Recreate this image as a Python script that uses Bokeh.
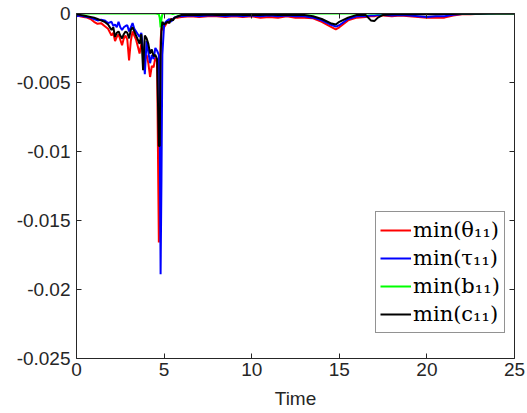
from bokeh.plotting import figure
from bokeh.models import LinearAxis, FixedTicker, Range1d, Legend, LegendItem, ColumnDataSource
from bokeh.embed import file_html
from bokeh.resources import INLINE

time = [0, 0.2, 0.4, 0.6, 0.8, 1.0, 1.2, 1.4, 1.6, 1.8,
        2.0, 2.1, 2.2, 2.3, 2.4, 2.5, 2.6, 2.7, 2.8, 2.9,
        3.0, 3.1, 3.2, 3.3, 3.4, 3.5, 3.6, 3.7, 3.8, 3.9,
        4.0, 4.1, 4.2, 4.3, 4.4, 4.5, 4.6, 4.7, 4.75, 4.8,
        4.85, 4.9, 5.0, 5.1, 5.2, 5.3, 5.4, 5.5, 5.6, 5.8,
        6.0, 6.5, 7, 7.5, 8, 8.5, 9, 9.5, 10, 10.5,
        11, 11.5, 12, 12.5, 13, 13.5, 14, 14.5, 14.8, 15,
        15.5, 16, 16.5, 16.8, 17, 17.2, 17.5, 18, 18.5, 19,
        19.5, 20, 20.5, 21, 21.5, 22, 22.5, 23, 23.5, 24,
        24.5, 25]

min_theta = [-0.0001, -0.0002, -0.00025, -0.0003, -0.0004, -0.0006, -0.00075, -0.0007, -0.0009, -0.0011,
             -0.0016, -0.0014, -0.0020, -0.0017, -0.0015, -0.0019, -0.0023, -0.0018, -0.0016, -0.0019,
             -0.0034, -0.0020, -0.0013, -0.0016, -0.0019, -0.0024, -0.0029, -0.0022, -0.0026, -0.0033,
             -0.0030, -0.0036, -0.0046, -0.0038, -0.0039, -0.0032, -0.0035, -0.0166, -0.0090, -0.0020,
             -0.0010, -0.0012, -0.0010, -0.0008, -0.0006, -0.0005, -0.0004, -0.00045, -0.0003, -0.0003,
             -0.00025, -0.0002, -0.00025, -0.0002, -0.0002, -0.00025, -0.0002, -0.00025, -0.0002, -0.0003,
             -0.00025, -0.0003, -0.0002, -0.0003, -0.0003, -0.00035, -0.0006, -0.00095, -0.00115, -0.0010,
             -0.0005, -0.0003, -0.00025, -0.0002, -0.0002, -0.00015, -0.00015, -0.0002, -0.00015, -0.0002,
             -0.00025, -0.0003, -0.0003, -0.0003, -0.00015, -0.00005, -0.00005, -0.00002, -0.00002, 0.0,
             0.0, 0.0]

min_tau = [-0.0002, -0.00015, -0.0002, -0.00025, -0.0003, -0.0004, -0.0005, -0.00045, -0.0005, -0.0007,
           -0.0006, -0.0009, -0.0008, -0.0010, -0.0006, -0.0010, -0.0012, -0.0010, -0.0009, -0.00085,
           -0.0013, -0.0010, -0.0007, -0.0011, -0.0013, -0.0015, -0.0017, -0.0014, -0.0026, -0.0044,
           -0.0020, -0.0028, -0.0036, -0.0030, -0.0033, -0.0025, -0.0027, -0.0030, -0.0080, -0.0189,
           -0.0120, -0.0030, -0.0008, -0.0006, -0.0005, -0.0004, -0.0006, -0.0004, -0.0003, -0.0002,
           -0.0002, -0.00015, -0.0002, -0.00015, -0.00015, -0.0002, -0.00015, -0.0002, -0.00015, -0.0002,
           -0.00015, -0.0002, -0.00015, -0.0002, -0.0002, -0.0003, -0.0005, -0.0008, -0.00095, -0.00085,
           -0.0004, -0.0002, -0.0002, -0.00015, -0.00015, -0.0001, -0.0001, -0.00015, -0.0001, -0.00015,
           -0.0002, -0.00025, -0.0002, -0.0002, -0.0001, -0.00003, -0.00003, -0.00002, -0.00001, 0.0,
           0.0, 0.0]

min_b = [0.0, 0.0, 0.0, 0.0, 0.0, 0.0, 0.0, 0.0, 0.0, 0.0,
         0.0, 0.0, 0.0, 0.0, 0.0, 0.0, 0.0, 0.0, 0.0, 0.0,
         0.0, 0.0, 0.0, 0.0, 0.0, 0.0, 0.0, 0.0, 0.0, 0.0,
         0.0, 0.0, 0.0, 0.0, 0.0, 0.0, -0.00002, -0.00005, -0.0003, -0.0010,
         -0.0004, -0.00005, 0.0, 0.0, 0.0, 0.0, 0.0, -0.00005, 0.0, 0.0,
         0.0, 0.0, 0.0, 0.0, 0.0, 0.0, 0.0, 0.0, 0.0, 0.0,
         0.0, 0.0, 0.0, 0.0, 0.0, 0.0, 0.0, 0.0, 0.0, 0.0,
         0.0, 0.0, 0.0, 0.0, 0.0, 0.0, 0.0, 0.0, 0.0, 0.0,
         0.0, 0.0, 0.0, 0.0, 0.0, 0.0, 0.0, 0.0, 0.0, 0.0,
         0.0, 0.0]

min_c = [-0.00005, -0.0001, -0.00015, -0.0002, -0.00025, -0.0003, -0.0004, -0.0005, -0.0006, -0.0008,
         -0.0012, -0.0010, -0.0017, -0.0014, -0.0013, -0.0016, -0.0018, -0.0015, -0.0013, -0.0014,
         -0.0018, -0.0012, -0.0010, -0.0013, -0.0016, -0.0019, -0.0022, -0.0015, -0.0041, -0.0016,
         -0.0018, -0.0022, -0.0029, -0.0026, -0.0031, -0.0030, -0.0033, -0.0096, -0.0096, -0.0030,
         -0.0012, -0.0006, -0.0008, -0.0007, -0.0006, -0.0007, -0.0004, -0.0005, -0.0003, -0.0002,
         -0.0001, -0.0001, -0.0001, -0.00008, -0.0001, -0.0001, -0.00008, -0.0001, -0.0001, -0.0001,
         -0.00008, -0.0001, -0.0001, -0.0001, -0.0001, -0.0002, -0.0004, -0.0007, -0.0008, -0.0006,
         -0.0003, -0.0001, -0.0001, -0.0005, -0.00055, -0.0003, -0.0001, -0.00005, -0.00005, -0.00005,
         -0.00005, -0.00005, -0.00005, -0.00003, -0.00003, -0.00002, -0.00002, -0.00001, 0.0, 0.0,
         0.0, 0.0]

x_ticks = [0, 5, 10, 15, 20, 25]
y_ticks = [0, -0.005, -0.01, -0.015, -0.02, -0.025]
y_tick_labels = ["0", "-0.005", "-0.01", "-0.015", "-0.02", "-0.025"]
series_labels = ["min(θ₁₁)", "min(τ₁₁)", "min(b₁₁)", "min(c₁₁)"]
series_colors = ["#ff0000", "#0000ff", "#00ff00", "#000000"]

AX = "#262626"
FONT = "Liberation Sans"

p = figure(width=527, height=413, output_backend="svg", toolbar_location=None,
           x_range=Range1d(0, 25), y_range=Range1d(-0.025, 0),
           min_border_left=76, min_border_right=13, min_border_top=13, min_border_bottom=55)
p.background_fill_color = "white"
p.border_fill_color = "white"
p.outline_line_color = None
p.grid.visible = False

src = ColumnDataSource(dict(t=time, a=min_theta, b=min_tau, g=min_b, k=min_c))
renderers = []
for col, color in zip(["a", "b", "g", "k"], series_colors):
    r = p.line("t", col, source=src, line_color=color, line_width=2)
    renderers.append(r)

label_overrides = {v: s for v, s in zip(y_ticks, y_tick_labels)}

def style(ax, labels=True):
    ax.axis_line_color = AX
    ax.axis_line_width = 1
    ax.major_tick_line_color = AX
    ax.major_tick_in = 5
    ax.major_tick_out = 0
    ax.minor_tick_line_color = None
    ax.major_label_text_font = FONT
    ax.major_label_text_font_size = "19px"
    ax.major_label_text_color = AX
    if not labels:
        ax.major_label_text_font_size = "0px"
        ax.major_label_text_alpha = 0

xa = p.xaxis[0]
xa.ticker = FixedTicker(ticks=x_ticks)
style(xa)
xa.major_label_standoff = 4
xa.axis_label = "Time"
xa.axis_label_text_font = FONT
xa.axis_label_text_font_size = "19px"
xa.axis_label_text_font_style = "normal"
xa.axis_label_text_color = AX
xa.axis_label_standoff = 9

ya = p.yaxis[0]
ya.ticker = FixedTicker(ticks=y_ticks)
ya.major_label_overrides = label_overrides
style(ya)
ya.major_label_standoff = 6

top = LinearAxis(ticker=FixedTicker(ticks=x_ticks))
style(top, labels=False)
top.major_label_standoff = 0
p.add_layout(top, "above")
right = LinearAxis(ticker=FixedTicker(ticks=y_ticks))
style(right, labels=False)
right.major_label_standoff = 0
p.add_layout(right, "right")

legend = Legend(items=[LegendItem(label=l, renderers=[r]) for l, r in zip(series_labels, renderers)],
                location=(299, 25))
legend.label_text_font = "DejaVu Serif"
legend.label_text_font_size = "21px"
legend.label_text_color = "#000000"
legend.border_line_color = AX
legend.border_line_width = 1
legend.background_fill_color = "white"
legend.background_fill_alpha = 1
legend.glyph_width = 31
legend.glyph_height = 28
legend.label_height = 28
legend.label_standoff = 2
legend.spacing = 0
legend.padding = 4
legend.margin = 0
p.add_layout(legend, "center")

open("out.html", "w").write(file_html(p, INLINE))
